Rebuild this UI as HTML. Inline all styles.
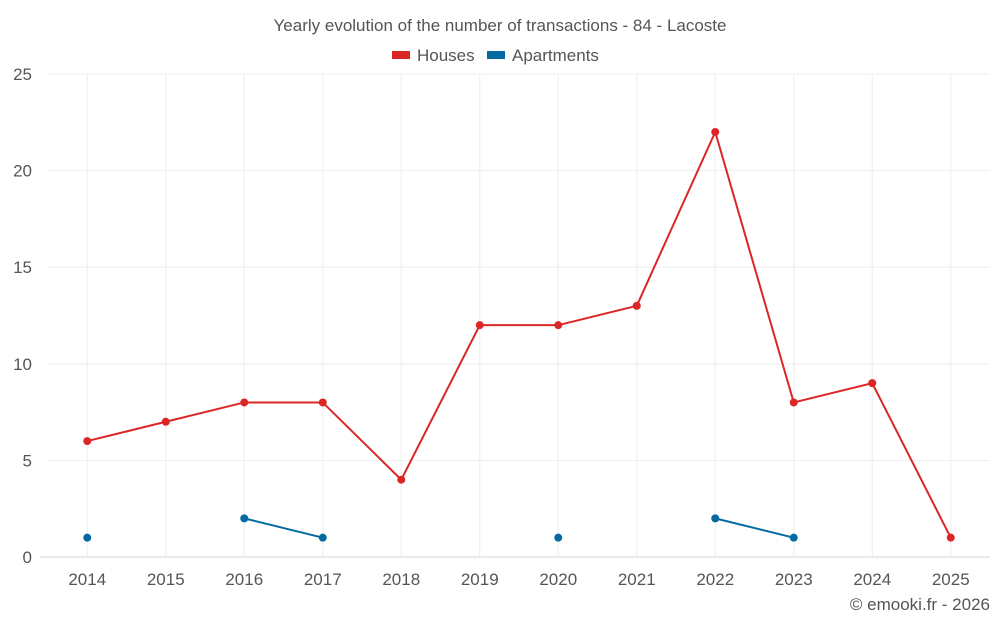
<!DOCTYPE html>
<html><head><meta charset="utf-8"><style>
body{margin:0;background:#fff;font-family:"Liberation Sans",sans-serif;}
svg text{font-family:"Liberation Sans",sans-serif;fill:#555;}
</style></head><body>
<svg id="chart" width="1000" height="625">
<text x="500" y="31" text-anchor="middle" font-size="17">Yearly evolution of the number of transactions - 84 - Lacoste</text>
<g>
<g><rect x="392" y="51" width="18" height="8" fill="#dc2626"/><text x="417" y="61" font-size="17">Houses</text></g>
<g><rect x="487" y="51" width="18" height="8" fill="#0369a1"/><text x="512" y="61" font-size="17">Apartments</text></g>
</g>
<g id="grid"></g>
<g id="axes"></g>
<g id="series"></g>
<text x="990" y="610" text-anchor="end" font-size="17">© emooki.fr - 2026</text>
</svg>
<script>
const categories=["2014","2015","2016","2017","2018","2019","2020","2021","2022","2023","2024","2025"];
const houses=[6,7,8,8,4,12,12,13,22,8,9,1];
const apartments=[1,null,2,1,null,null,1,null,2,1,null,null];
const yTicks=[0,5,10,15,20,25];
const NS="http://www.w3.org/2000/svg";
const L=48,R=990,T=74,B=557,yMax=25;
const band=(R-L)/categories.length;
const x=i=>L+band*(i+0.5);
const y=v=>B-(v/yMax)*(B-T);
function mk(tag,attrs,parent){const e=document.createElementNS(NS,tag);for(const k in attrs)e.setAttribute(k,attrs[k]);parent.appendChild(e);return e;}
const grid=document.getElementById('grid'),axes=document.getElementById('axes'),series=document.getElementById('series');
categories.forEach((c,i)=>{
 const l=mk('line',{x1:x(i),x2:x(i),y1:T,y2:B,stroke:'#eee'},grid);
 
 
 const tx=mk('text',{x:x(i),y:585,'text-anchor':'middle','font-size':17},axes);tx.textContent=c;
 
 
});
yTicks.forEach(t=>{
 const l=mk('line',{x1:t===0?40:L,x2:R,y1:y(t),y2:y(t),stroke:t===0?'#d6d6d6':'#eee'},grid);
 
 
 const tx=mk('text',{x:32,y:y(t)+6,'text-anchor':'end','font-size':17},axes);tx.textContent=t;
 
 
});
function draw(data,color,name){
 let seg=[];
 const flush=()=>{if(seg.length>1){const p=mk('polyline',{points:seg.join(' '),fill:'none',stroke:color,'stroke-width':2},series);
  
  }seg=[];};
 data.forEach((v,i)=>{if(v===null){flush();return;}seg.push(x(i)+','+y(v));});
 flush();
 data.forEach((v,i)=>{if(v===null)return;const c=mk('circle',{cx:x(i),cy:y(v),r:4,fill:color},series);
  
  });
}
draw(houses,'#dc2626','houses');
draw(apartments,'#0369a1','apartments');
</script>
</body></html>
